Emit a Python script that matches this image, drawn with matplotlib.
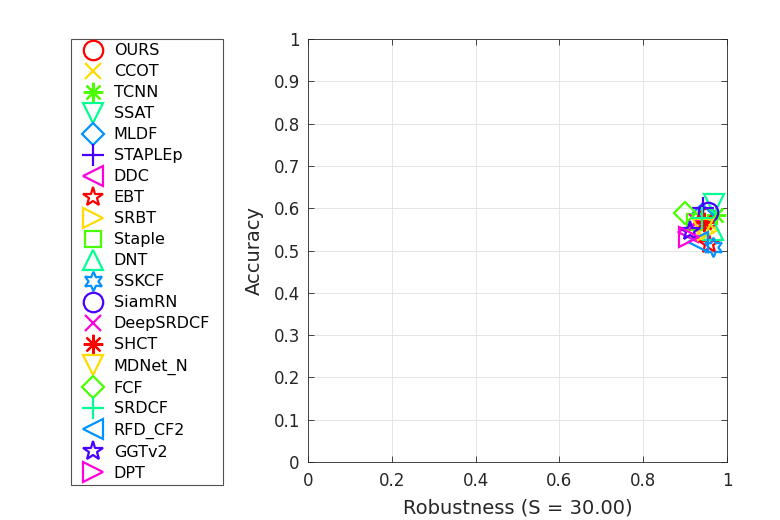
import numpy as np
from matplotlib import pyplot as plt
from matplotlib import colors as mcolors

trackers = ['OURS', 'CCOT', 'TCNN', 'SSAT', 'MLDF', 'STAPLEp', 'DDC', 'EBT', 'SRBT', 'Staple', 'DNT',
            'SSKCF', 'SiamRN', 'DeepSRDCF', 'SHCT', 'MDNet_N', 'FCF', 'SRDCF', 'RFD_CF2', 'GGTv2', 'DPT']
robustness = [0.952, 0.950, 0.975, 0.970, 0.940, 0.943, 0.907, 0.958, 0.955, 0.924, 0.967,
              0.966, 0.955, 0.928, 0.944, 0.942, 0.900, 0.940, 0.931, 0.912, 0.910]
accuracy = [0.577, 0.560, 0.584, 0.610, 0.585, 0.600, 0.544, 0.515, 0.548, 0.567, 0.548,
            0.508, 0.591, 0.567, 0.567, 0.552, 0.589, 0.578, 0.520, 0.545, 0.533]

markers = ['o', 'x', (8, 2, 0), 'v', 'D', '+', '<', '*', '>', 's', '^', (6, 1, 0)]
sizes = {'o': 14, 'x': 12, 'v': 15, 'D': 11, '+': 16, '<': 15, '*': 15, '>': 15, 's': 12, '^': 15}
text_color = '#262626'


def hsv_color(i, n=7):
    return mcolors.hsv_to_rgb([i / n, 1.0, 1.0])


def main():
    fig = plt.figure(figsize=(7.8, 5.2), dpi=100)
    ax = fig.add_axes([0.395, 0.1115, 0.537, 0.8135])

    handles = []
    for i, name in enumerate(trackers):
        m = markers[i % len(markers)]
        ms = sizes.get(m, 14) if isinstance(m, str) else 14
        h, = ax.plot(robustness[i], accuracy[i], linestyle='none', marker=m, markersize=ms,
                     markerfacecolor='none', markeredgecolor=hsv_color(i % 7),
                     markeredgewidth=1.6, label=name, clip_on=True)
        handles.append(h)

    ax.set_xlim(0, 1)
    ax.set_ylim(0, 1)
    ax.set_xticks(np.arange(0, 1.01, 0.2))
    ax.set_yticks(np.arange(0, 1.01, 0.1))
    ax.set_xticklabels(['0', '0.2', '0.4', '0.6', '0.8', '1'])
    ax.set_yticklabels(['0'] + ['%.1f' % v for v in np.arange(0.1, 1.0, 0.1)] + ['1'])
    ax.tick_params(direction='in', top=True, right=True, labelsize=12, length=4, width=0.6,
                   labelcolor=text_color, color=text_color)
    ax.tick_params(axis='x', pad=7)
    ax.tick_params(axis='y', pad=6)
    ax.grid(True, color='#e0e0e0', linewidth=0.6)
    ax.set_axisbelow(True)
    for s in ax.spines.values():
        s.set_linewidth(0.6)
        s.set_color(text_color)
    ax.set_xlabel('Robustness (S = 30.00)', fontsize=14, color=text_color, labelpad=6)
    ax.set_ylabel('Accuracy', fontsize=14, color=text_color, labelpad=7)

    leg = fig.legend(handles=handles, loc='upper left',
                     bbox_to_anchor=(71 / 780, 0.925, 152 / 780, 0), mode='expand',
                     fontsize=11.5, frameon=True, fancybox=False, edgecolor=text_color,
                     labelspacing=0.375, handlelength=2.2, handletextpad=0.2,
                     borderpad=0.28, borderaxespad=0, numpoints=1)
    leg.get_frame().set_linewidth(0.8)

    plt.savefig('out.png', dpi=100)


if __name__ == '__main__':
    main()
